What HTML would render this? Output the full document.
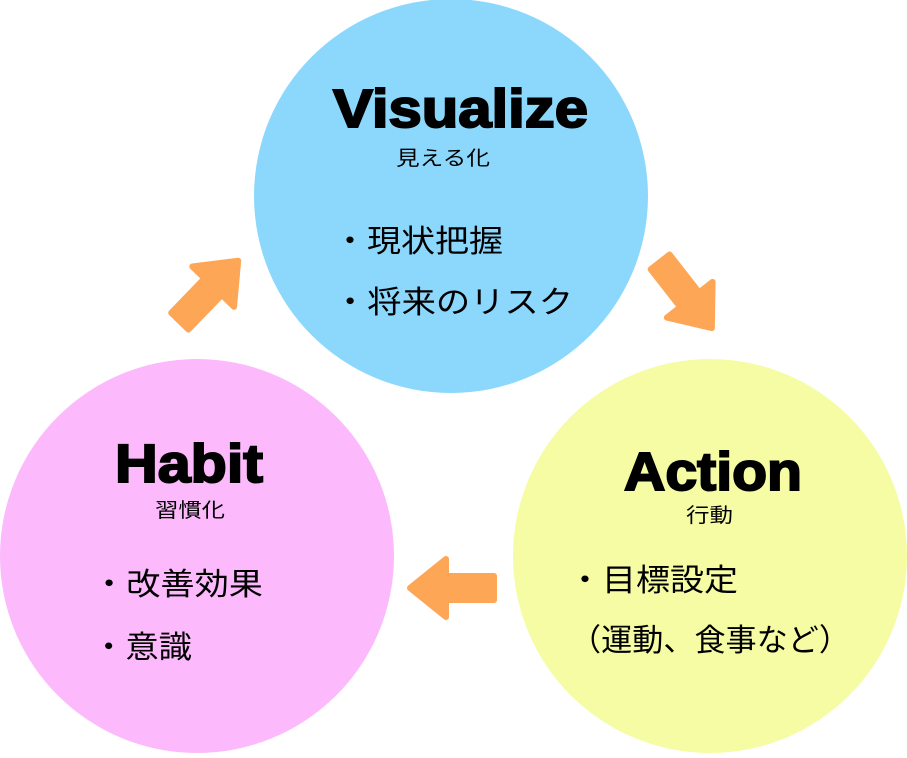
<!DOCTYPE html>
<html><head><meta charset="utf-8"><style>
body{margin:0;background:#fff;}
svg text{font-family:"Liberation Sans","Noto Sans CJK JP",sans-serif;}
</style></head><body>
<svg width="907" height="753" viewBox="0 0 907 753" xmlns="http://www.w3.org/2000/svg">
<circle cx="451" cy="196" r="197" fill="#8cd8fc"/>
<circle cx="710" cy="556" r="197" fill="#f6fca4"/>
<circle cx="197" cy="556" r="197" fill="#fcb9fc"/>
<g fill="#fda656" stroke="#fda656" stroke-width="6" stroke-linejoin="round">
<polygon transform="translate(452,588) rotate(180)" points="-42,-12 6,-12 6,-29 42,0 6,29 6,12 -42,12"/>
<polygon transform="translate(209,291) rotate(-46)" points="-42,-12 6,-12 6,-29 42,0 6,29 6,12 -42,12"/>
<polygon transform="translate(686,295) rotate(52)" points="-42,-12 6,-12 6,-29 42,0 6,29 6,12 -42,12"/>
</g>
<g fill="#000">
<text x="333" y="127" font-size="54" font-weight="900" stroke="#000" stroke-width="2" textLength="255" lengthAdjust="spacingAndGlyphs">Visualize</text>
<text x="396" y="165" font-size="20" textLength="94" lengthAdjust="spacingAndGlyphs">見える化</text>
<text x="333" y="252" font-size="31" textLength="170" lengthAdjust="spacingAndGlyphs">・現状把握</text>
<text x="333" y="313" font-size="31" textLength="240" lengthAdjust="spacingAndGlyphs">・将来のリスク</text>
<text x="115" y="482" font-size="54" font-weight="900" stroke="#000" stroke-width="2" textLength="148" lengthAdjust="spacingAndGlyphs">Habit</text>
<text x="155" y="517" font-size="20" textLength="70" lengthAdjust="spacingAndGlyphs">習慣化</text>
<text x="92" y="595" font-size="31" textLength="171" lengthAdjust="spacingAndGlyphs">・改善効果</text>
<text x="92" y="658" font-size="31" textLength="100" lengthAdjust="spacingAndGlyphs">・意識</text>
<text x="624" y="490" font-size="54" font-weight="900" stroke="#000" stroke-width="2" textLength="178" lengthAdjust="spacingAndGlyphs">Action</text>
<text x="686" y="522" font-size="20" textLength="47" lengthAdjust="spacingAndGlyphs">行動</text>
<text x="568" y="591" font-size="31" textLength="170" lengthAdjust="spacingAndGlyphs">・目標設定</text>
<text x="570" y="651" font-size="31" textLength="280" lengthAdjust="spacingAndGlyphs">（運動、食事など）</text>
</g>
</svg>
</body></html>
